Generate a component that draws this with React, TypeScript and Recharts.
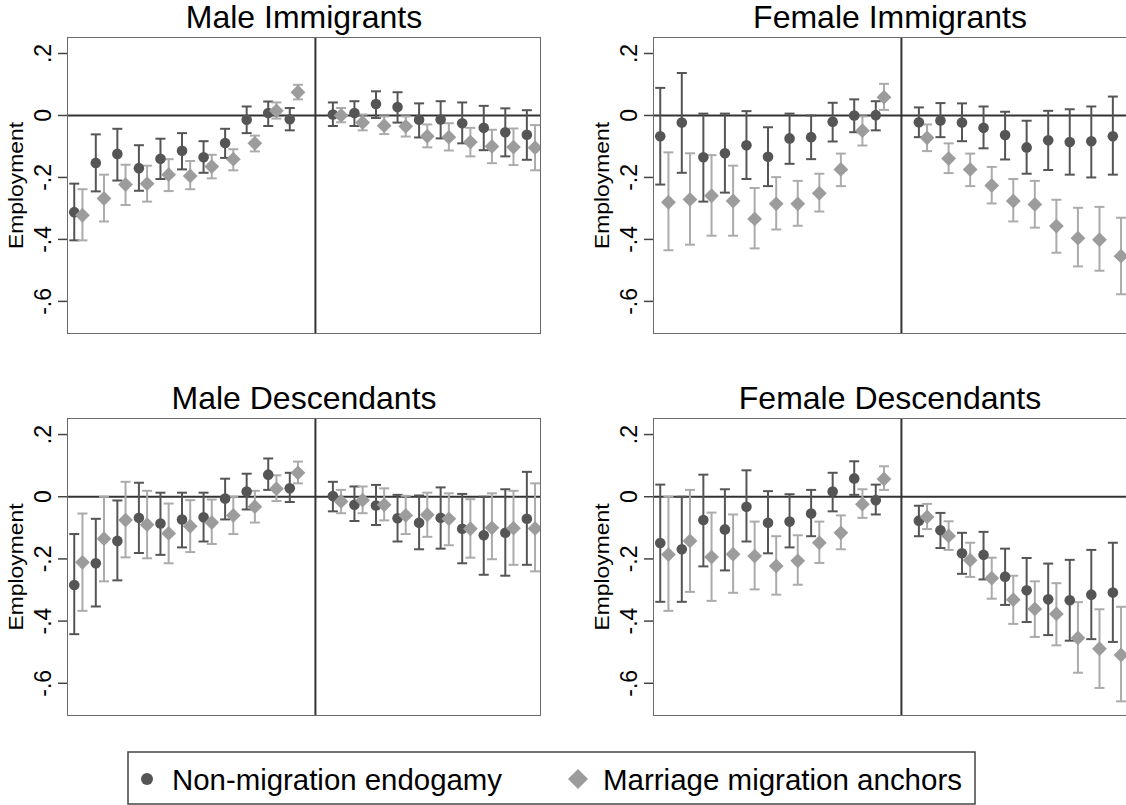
import React from 'react';
import { ScatterChart, Scatter, XAxis, YAxis, ErrorBar, ReferenceLine } from 'recharts';

// ---------- data ----------
const eventTimes = [-11, -10, -9, -8, -7, -6, -5, -4, -3, -2, -1, 1, 2, 3, 4, 5, 6, 7, 8, 9, 10];
const yTicks = [0.2, 0, -0.2, -0.4, -0.6];
const yTickLabels = ['.2', '0', '-.2', '-.4', '-.6'];
const seriesNames = ['Non-migration endogamy', 'Marriage migration anchors'];
const panelTitles = ['Male Immigrants', 'Female Immigrants', 'Male Descendants', 'Female Descendants'];
const yAxisTitle = 'Employment';

// Male Immigrants
const miEndoEst = [-0.312, -0.153, -0.124, -0.170, -0.140, -0.114, -0.135, -0.089, -0.014, 0.008, -0.012, 0.003, 0.008, 0.037, 0.027, -0.014, -0.013, -0.025, -0.040, -0.054, -0.062];
const miEndoLo = [-0.403, -0.245, -0.210, -0.243, -0.205, -0.174, -0.185, -0.137, -0.057, -0.034, -0.048, -0.034, -0.034, -0.008, -0.023, -0.071, -0.074, -0.090, -0.112, -0.132, -0.143];
const miEndoHi = [-0.220, -0.061, -0.043, -0.096, -0.075, -0.057, -0.083, -0.043, 0.029, 0.045, 0.024, 0.042, 0.046, 0.078, 0.075, 0.039, 0.046, 0.042, 0.031, 0.023, 0.017];
const miAnchEst = [-0.322, -0.268, -0.223, -0.220, -0.191, -0.195, -0.165, -0.141, -0.090, 0.015, 0.075, 0.000, -0.023, -0.033, -0.035, -0.067, -0.070, -0.086, -0.100, -0.102, -0.104];
const miAnchLo = [-0.403, -0.342, -0.289, -0.278, -0.244, -0.238, -0.203, -0.177, -0.116, -0.010, 0.052, -0.022, -0.048, -0.060, -0.068, -0.103, -0.113, -0.132, -0.154, -0.160, -0.177];
const miAnchHi = [-0.238, -0.191, -0.159, -0.162, -0.141, -0.147, -0.127, -0.109, -0.065, 0.042, 0.099, 0.024, 0.003, -0.003, -0.003, -0.029, -0.025, -0.040, -0.046, -0.042, -0.031];

// Female Immigrants
const fiEndoEst = [-0.067, -0.023, -0.135, -0.122, -0.096, -0.133, -0.074, -0.070, -0.020, 0.000, 0.001, -0.022, -0.016, -0.023, -0.040, -0.063, -0.103, -0.080, -0.086, -0.083, -0.067];
const fiEndoLo = [-0.223, -0.185, -0.278, -0.249, -0.205, -0.228, -0.156, -0.141, -0.084, -0.054, -0.048, -0.070, -0.070, -0.083, -0.106, -0.142, -0.188, -0.176, -0.191, -0.200, -0.191];
const fiEndoHi = [0.089, 0.137, 0.006, 0.006, 0.014, -0.038, 0.006, 0.000, 0.041, 0.052, 0.046, 0.026, 0.040, 0.039, 0.029, 0.012, -0.017, 0.015, 0.020, 0.029, 0.061];
const fiAnchEst = [-0.280, -0.271, -0.259, -0.276, -0.334, -0.285, -0.285, -0.251, -0.174, -0.049, 0.059, -0.072, -0.139, -0.174, -0.226, -0.276, -0.287, -0.357, -0.396, -0.401, -0.454];
const fiAnchLo = [-0.435, -0.417, -0.388, -0.388, -0.429, -0.368, -0.356, -0.310, -0.228, -0.097, 0.018, -0.115, -0.186, -0.228, -0.284, -0.342, -0.362, -0.443, -0.487, -0.501, -0.577];
const fiAnchHi = [-0.119, -0.122, -0.128, -0.162, -0.234, -0.199, -0.211, -0.188, -0.123, -0.003, 0.102, -0.029, -0.090, -0.123, -0.166, -0.205, -0.211, -0.272, -0.298, -0.295, -0.330];

// Male Descendants
const mdEndoEst = [-0.284, -0.214, -0.142, -0.068, -0.086, -0.073, -0.066, -0.006, 0.017, 0.071, 0.027, 0.002, -0.026, -0.028, -0.069, -0.084, -0.068, -0.103, -0.124, -0.116, -0.071];
const mdEndoLo = [-0.442, -0.353, -0.269, -0.181, -0.187, -0.163, -0.144, -0.073, -0.041, 0.022, -0.017, -0.047, -0.078, -0.091, -0.144, -0.169, -0.167, -0.214, -0.251, -0.254, -0.219];
const mdEndoHi = [-0.120, -0.071, -0.012, 0.045, 0.013, 0.013, 0.013, 0.058, 0.074, 0.123, 0.077, 0.048, 0.033, 0.038, 0.006, 0.004, 0.030, 0.009, 0.000, 0.024, 0.080];
const mdAnchEst = [-0.211, -0.135, -0.075, -0.090, -0.118, -0.095, -0.083, -0.060, -0.032, 0.026, 0.077, -0.015, -0.011, -0.026, -0.060, -0.058, -0.071, -0.103, -0.100, -0.101, -0.102];
const mdAnchLo = [-0.367, -0.272, -0.195, -0.198, -0.214, -0.178, -0.152, -0.120, -0.083, -0.014, 0.043, -0.053, -0.053, -0.076, -0.120, -0.129, -0.156, -0.196, -0.201, -0.219, -0.240];
const mdAnchHi = [-0.054, 0.000, 0.048, 0.019, -0.022, -0.011, -0.009, 0.000, 0.019, 0.069, 0.113, 0.022, 0.033, 0.027, 0.003, 0.013, 0.011, -0.008, 0.011, 0.019, 0.043];

// Female Descendants
const fdEndoEst = [-0.149, -0.169, -0.075, -0.105, -0.032, -0.084, -0.080, -0.054, 0.017, 0.059, -0.011, -0.077, -0.108, -0.182, -0.187, -0.257, -0.301, -0.330, -0.333, -0.315, -0.308];
const fdEndoLo = [-0.338, -0.338, -0.224, -0.237, -0.144, -0.182, -0.163, -0.127, -0.047, 0.006, -0.057, -0.127, -0.165, -0.248, -0.266, -0.348, -0.403, -0.445, -0.463, -0.458, -0.467];
const fdEndoHi = [0.039, 0.000, 0.071, 0.024, 0.085, 0.018, 0.008, 0.022, 0.077, 0.114, 0.039, -0.029, -0.052, -0.116, -0.113, -0.167, -0.197, -0.215, -0.203, -0.171, -0.148];
const fdAnchEst = [-0.186, -0.142, -0.194, -0.185, -0.191, -0.223, -0.206, -0.148, -0.116, -0.024, 0.057, -0.065, -0.126, -0.204, -0.262, -0.331, -0.361, -0.377, -0.454, -0.489, -0.509];
const fdAnchLo = [-0.367, -0.306, -0.335, -0.309, -0.298, -0.315, -0.283, -0.213, -0.169, -0.068, 0.022, -0.104, -0.171, -0.258, -0.328, -0.409, -0.451, -0.478, -0.566, -0.615, -0.658];
const fdAnchHi = [0.000, 0.022, -0.051, -0.057, -0.080, -0.127, -0.124, -0.080, -0.060, 0.024, 0.098, -0.023, -0.079, -0.148, -0.196, -0.254, -0.272, -0.278, -0.339, -0.362, -0.354];

// ---------- style / layout ----------
const FONT = '"Liberation Sans", Arial, Helvetica, sans-serif';
const DARK = '#555555';
const LIGHT = '#9c9c9c';
const DARK_BAR = '#555555';
const LIGHT_BAR = '#ababab';
const DODGE = 0.19;
const X_DOMAIN: [number, number] = [-11.48, 10.42];
const Y_DOMAIN: [number, number] = [-0.702, 0.25];
const AXIS_W = 68;
const PLOT_W = 472;

function buildSeries(est: number[], lo: number[], hi: number[], shift: number) {
  return eventTimes.map((t, i) => ({
    x: t + shift,
    y: est[i],
    err: [est[i] - lo[i], hi[i] - est[i]],
  }));
}

const CircleShape = (props: any) => {
  const { cx, cy } = props;
  if (cx == null || cy == null) return null;
  return <circle cx={cx} cy={cy} r={5.3} fill={DARK} stroke="none" />;
};

const DiamondShape = (props: any) => {
  const { cx, cy } = props;
  if (cx == null || cy == null) return null;
  const s = 7.4;
  return (
    <polygon
      points={`${cx},${cy - s} ${cx + s},${cy} ${cx},${cy + s} ${cx - s},${cy}`}
      fill={LIGHT}
      stroke="none"
    />
  );
};

const YTick = (props: any) => {
  const { x, y, payload } = props;
  const idx = yTicks.indexOf(payload.value);
  const label = idx >= 0 ? yTickLabels[idx] : String(payload.value);
  return (
    <text
      transform={`translate(${x - 5},${y}) rotate(-90)`}
      textAnchor="middle"
      fontFamily={FONT}
      fontSize={23}
      fill="#000"
    >
      {label}
    </text>
  );
};

type PanelProps = {
  title: string;
  left: number;
  top: number;
  plotTop: number;
  plotH: number;
  endo: [number[], number[], number[]];
  anch: [number[], number[], number[]];
};

function Panel({ title, left, top, plotTop, plotH, endo, anch }: PanelProps) {
  const endoData = buildSeries(endo[0], endo[1], endo[2], -DODGE);
  const anchData = buildSeries(anch[0], anch[1], anch[2], DODGE);
  const width = AXIS_W + PLOT_W + 5;
  const height = plotTop + plotH + 7;
  return (
    <div style={{ position: 'absolute', left, top, width, height }}>
      <ScatterChart
        width={width}
        height={height}
        margin={{ top: plotTop, right: 5, bottom: 7, left: 0 }}
      >
        <XAxis type="number" dataKey="x" domain={X_DOMAIN} allowDataOverflow hide />
        <YAxis
          type="number"
          dataKey="y"
          domain={Y_DOMAIN}
          allowDataOverflow
          ticks={yTicks}
          interval={0}
          width={AXIS_W}
          axisLine={false}
          tickSize={10}
          tickLine={{ stroke: '#444', strokeWidth: 1.5 }}
          tick={<YTick />}
        />
        <ReferenceLine y={0} stroke="#333" strokeWidth={2} ifOverflow="extendDomain" />
        <ReferenceLine x={0} stroke="#333" strokeWidth={2} />
        <Scatter
          name={seriesNames[0]}
          data={endoData}
          shape={<CircleShape />}
          isAnimationActive={false}
        >
          <ErrorBar dataKey="err" direction="y" width={5} stroke={DARK_BAR} strokeWidth={2} />
        </Scatter>
        <Scatter
          name={seriesNames[1]}
          data={anchData}
          shape={<DiamondShape />}
          isAnimationActive={false}
        >
          <ErrorBar dataKey="err" direction="y" width={5} stroke={LIGHT_BAR} strokeWidth={2} />
        </Scatter>
      </ScatterChart>
      <div
        style={{
          position: 'absolute',
          left: AXIS_W - 1,
          top: plotTop - 1,
          width: PLOT_W,
          height: plotH,
          border: '1.5px solid #6a6a6a',
          pointerEvents: 'none',
        }}
      />
      <svg
        width={width}
        height={height}
        style={{ position: 'absolute', left: 0, top: 0, pointerEvents: 'none', overflow: 'visible' }}
      >
        <text
          x={AXIS_W + PLOT_W / 2}
          y={plotTop - 10}
          textAnchor="middle"
          fontFamily={FONT}
          fontSize={32}
          fill="#000"
        >
          {title}
        </text>
        <text
          transform={`translate(23,${plotTop + plotH / 2}) rotate(-90)`}
          textAnchor="middle"
          fontFamily={FONT}
          fontSize={21}
          textLength={127}
          lengthAdjust="spacingAndGlyphs"
          fill="#000"
        >
          {yAxisTitle}
        </text>
      </svg>
    </div>
  );
}

function LegendBox() {
  return (
    <svg
      width={1126}
      height={805}
      style={{ position: 'absolute', left: 0, top: 0, pointerEvents: 'none' }}
    >
      <rect x={128} y={752} width={847} height={52} fill="#fff" stroke="#444" strokeWidth={1.5} />
      <circle cx={147} cy={779} r={6} fill={DARK} />
      <text x={172} y={790} fontFamily={FONT} fontSize={30} textLength={330} lengthAdjust="spacingAndGlyphs" fill="#000">
        {seriesNames[0]}
      </text>
      <polygon points="578,769 588,779 578,789 568,779" fill={LIGHT} />
      <text x={603} y={790} fontFamily={FONT} fontSize={30} textLength={359} lengthAdjust="spacingAndGlyphs" fill="#000">
        {seriesNames[1]}
      </text>
    </svg>
  );
}

export default function App() {
  return (
    <div
      style={{
        position: 'absolute',
        left: 0,
        top: 0,
        width: 1126,
        height: 805,
        background: '#fff',
        overflow: 'hidden',
        fontFamily: FONT,
      }}
    >
      <Panel
        title={panelTitles[0]}
        left={0}
        top={0}
        plotTop={38}
        plotH={295}
        endo={[miEndoEst, miEndoLo, miEndoHi]}
        anch={[miAnchEst, miAnchLo, miAnchHi]}
      />
      <Panel
        title={panelTitles[1]}
        left={586}
        top={0}
        plotTop={38}
        plotH={295}
        endo={[fiEndoEst, fiEndoLo, fiEndoHi]}
        anch={[fiAnchEst, fiAnchLo, fiAnchHi]}
      />
      <Panel
        title={panelTitles[2]}
        left={0}
        top={381}
        plotTop={38}
        plotH={296}
        endo={[mdEndoEst, mdEndoLo, mdEndoHi]}
        anch={[mdAnchEst, mdAnchLo, mdAnchHi]}
      />
      <Panel
        title={panelTitles[3]}
        left={586}
        top={381}
        plotTop={38}
        plotH={296}
        endo={[fdEndoEst, fdEndoLo, fdEndoHi]}
        anch={[fdAnchEst, fdAnchLo, fdAnchHi]}
      />
      <LegendBox />
    </div>
  );
}
